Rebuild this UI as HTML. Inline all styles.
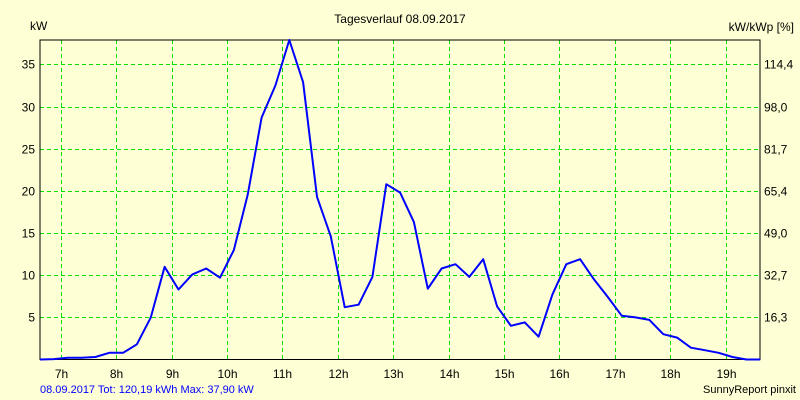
<!DOCTYPE html>
<html><head><meta charset="utf-8"><style>
body{margin:0;background:#FFFFD5;}
svg{display:block;font-family:"Liberation Sans",sans-serif;font-size:12px;}
</style></head><body>
<svg id="chart" width="800" height="400">
<rect width="800" height="400" fill="#FFFFD5"/>
<text x="400" y="23" text-anchor="middle">Tagesverlauf 08.09.2017</text>
<text x="30" y="30">kW</text>
<text x="794" y="31" text-anchor="end">kW/kWp [%]</text>
<g id="grid"></g>
<g id="ticks"></g>
<rect x="40" y="40" width="720" height="319.5" fill="none" stroke="#000" stroke-width="1"/>
<polyline id="line" fill="none" stroke="#0000FF" stroke-width="2" stroke-linejoin="round"/>
<text x="40" y="393" fill="#0000FF" font-size="11">08.09.2017 Tot: 120,19 kWh Max: 37,90 kW</text>
<text x="796" y="393" text-anchor="end" font-size="11">SunnyReport pinxit</text>
</svg>
<script>
const startHour = 6.625;
const stepHour = 0.25;
const powerKW = [0,0.05,0.2,0.2,0.3,0.8,0.8,1.8,5,11,8.3,10.1,10.8,9.7,13,19.6,28.7,32.5,37.9,32.9,19.3,14.6,6.2,6.5,9.8,20.8,19.8,16.3,8.4,10.8,11.3,9.8,11.9,6.3,4.0,4.4,2.7,7.7,11.3,11.9,9.5,7.4,5.2,5.0,4.7,3.0,2.6,1.4,1.1,0.8,0.3,0,0];
const hourLabels = ["7h","8h","9h","10h","11h","12h","13h","14h","15h","16h","17h","18h","19h"];
const hourValues = [7,8,9,10,11,12,13,14,15,16,17,18,19];
const yTicks = [5,10,15,20,25,30,35];
const y2Labels = ["16,3","32,7","49,0","65,4","81,7","98,0","114,4"];
const NS="http://www.w3.org/2000/svg";
const xS = h => 40 + (h - startHour) * 55.4;
const yS = v => 359.5 - v * 8.43;
const grid=document.getElementById('grid'), ticks=document.getElementById('ticks');
function mk(tag,attrs,parent){const e=document.createElementNS(NS,tag);for(const k in attrs)e.setAttribute(k,attrs[k]);parent.appendChild(e);return e;}
hourValues.forEach((h,i)=>{
  const x=Math.round(xS(h))+0.5;
  const l=mk('line',{x1:x,x2:x,y1:40,y2:359,stroke:'#00E000','stroke-dasharray':'4,3'},grid);
  
  
  const t=mk('text',{x:x,y:378,'text-anchor':'middle'},ticks);
  t.textContent=hourLabels[i];
  
  
});
yTicks.forEach((v,i)=>{
  const y=Math.round(yS(v))+0.5;
  const l=mk('line',{x1:40,x2:760,y1:y,y2:y,stroke:'#00E000','stroke-dasharray':'4,3'},grid);
  
  
  const t=mk('text',{x:35,y:y+4,'text-anchor':'end'},ticks);
  t.textContent=String(v);
  
  
  const t2=mk('text',{x:764,y:y+4},ticks);
  t2.textContent=y2Labels[i];
  
  
});
document.getElementById('line').setAttribute('points',
  powerKW.map((v,i)=>xS(startHour+i*stepHour).toFixed(1)+','+yS(v).toFixed(1)).join(' '));
</script>
</body></html>
